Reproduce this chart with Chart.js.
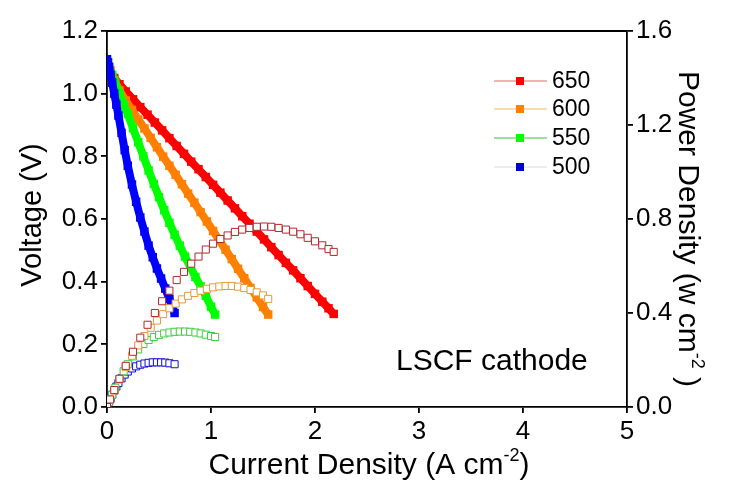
<!DOCTYPE html>
<html>
<head>
<meta charset="utf-8">
<script src="https://cdn.jsdelivr.net/npm/chart.js@4.4.1/dist/chart.umd.min.js"></script>
<style>
  html, body { margin: 0; padding: 0; background: #fff; }
  canvas { display: block; }
</style>
</head>
<body>
<canvas id="chart" width="731" height="488"></canvas>
<script>
// I-V and I-P curves, LSCF cathode, four temperatures (°C)
const temps = ['650', '600', '550', '500'];

const cur650 = [0.00, 0.03, 0.07, 0.12, 0.18, 0.25, 0.32, 0.39, 0.46, 0.53, 0.60, 0.67, 0.74, 0.81, 0.88, 0.95, 1.02, 1.09, 1.16, 1.23, 1.30, 1.37, 1.44, 1.51, 1.58, 1.65, 1.72, 1.79, 1.86, 1.93, 2.00, 2.07, 2.13, 2.18];
const volt650 = [1.10, 1.075, 1.05, 1.03, 1.007, 0.982, 0.957, 0.933, 0.908, 0.883, 0.858, 0.833, 0.808, 0.783, 0.759, 0.734, 0.709, 0.684, 0.659, 0.634, 0.609, 0.585, 0.560, 0.535, 0.510, 0.485, 0.460, 0.436, 0.411, 0.386, 0.361, 0.336, 0.315, 0.297];
const pow650 = [0.000, 0.032, 0.072, 0.12, 0.175, 0.235, 0.295, 0.35, 0.40, 0.45, 0.495, 0.54, 0.575, 0.61, 0.64, 0.67, 0.695, 0.715, 0.73, 0.745, 0.755, 0.762, 0.767, 0.768, 0.767, 0.762, 0.755, 0.746, 0.735, 0.72, 0.705, 0.688, 0.672, 0.66];

const cur600 = [0.00, 0.03, 0.07, 0.12, 0.18, 0.24, 0.30, 0.36, 0.42, 0.48, 0.54, 0.60, 0.66, 0.72, 0.78, 0.84, 0.90, 0.96, 1.02, 1.08, 1.14, 1.20, 1.26, 1.32, 1.38, 1.44, 1.50, 1.55];
const volt600 = [1.10, 1.075, 1.042, 1.01, 0.978, 0.948, 0.918, 0.889, 0.859, 0.829, 0.799, 0.77, 0.741, 0.711, 0.681, 0.652, 0.622, 0.592, 0.562, 0.532, 0.502, 0.472, 0.441, 0.411, 0.38, 0.35, 0.319, 0.295];
const pow600 = [0.000, 0.032, 0.07, 0.118, 0.17, 0.218, 0.262, 0.302, 0.337, 0.368, 0.395, 0.42, 0.44, 0.458, 0.473, 0.485, 0.495, 0.503, 0.509, 0.513, 0.515, 0.515, 0.512, 0.506, 0.498, 0.488, 0.475, 0.46];

const cur550 = [0.00, 0.02, 0.05, 0.08, 0.12, 0.16, 0.20, 0.25, 0.30, 0.35, 0.40, 0.45, 0.50, 0.55, 0.60, 0.65, 0.70, 0.75, 0.80, 0.85, 0.90, 0.95, 1.00, 1.04];
const volt550 = [1.10, 1.085, 1.06, 1.035, 1.00, 0.965, 0.935, 0.89, 0.845, 0.80, 0.755, 0.712, 0.67, 0.628, 0.588, 0.55, 0.515, 0.48, 0.448, 0.415, 0.385, 0.355, 0.32, 0.295];
const pow550 = [0.000, 0.021, 0.052, 0.082, 0.118, 0.152, 0.182, 0.215, 0.245, 0.268, 0.285, 0.298, 0.307, 0.313, 0.317, 0.32, 0.321, 0.321, 0.32, 0.317, 0.313, 0.308, 0.302, 0.298];

const cur500 = [0.00, 0.01, 0.02, 0.035, 0.05, 0.07, 0.09, 0.11, 0.14, 0.17, 0.20, 0.24, 0.28, 0.32, 0.36, 0.40, 0.44, 0.48, 0.52, 0.56, 0.60, 0.65];
const volt500 = [1.11, 1.10, 1.085, 1.06, 1.035, 1.00, 0.965, 0.93, 0.875, 0.82, 0.77, 0.71, 0.655, 0.605, 0.56, 0.515, 0.478, 0.442, 0.41, 0.378, 0.345, 0.30];
const pow500 = [0.000, 0.011, 0.022, 0.037, 0.052, 0.07, 0.087, 0.102, 0.122, 0.138, 0.151, 0.164, 0.173, 0.18, 0.185, 0.188, 0.19, 0.19, 0.19, 0.189, 0.186, 0.182];

const xTicks = [0, 1, 2, 3, 4, 5];
const vTicks = [0, 0.2, 0.4, 0.6, 0.8, 1.0, 1.2];
const pTicks = [0, 0.4, 0.8, 1.2, 1.6];

const currents = [cur650, cur600, cur550, cur500];
const voltages = [volt650, volt600, volt550, volt500];
const powers = [pow650, pow600, pow550, pow500];

const FONT = '"Liberation Sans", Arial, sans-serif';
const bandColors = ['#ff0000', '#ff8000', '#00ff00', '#0000ff'];
const powerColors = ['#b0282d', '#e49a3c', '#3fcc3f', '#1010d0'];
const legendLines = ['#e46a6a', '#f3b766', '#3cc03c', '#dcdcdc'];
const legendSquares = ['#ff0000', '#ff8000', '#00ff00', '#0000cc'];
// voltage bands: 500 on top, 650 at the bottom; power squares above all bands
const bandOrder = [14, 13, 12, 11];

function toXY(cur, vals) {
    return cur.map((c, i) => ({ x: c, y: vals[i] }));
}

const datasets = [];
temps.forEach((t, i) => {
    datasets.push({
        label: t,
        data: toXY(currents[i], voltages[i]),
        yAxisID: 'y',
        borderColor: bandColors[i],
        backgroundColor: bandColors[i],
        borderWidth: 8,
        pointStyle: 'rect',
        pointRadius: 6,
        pointBorderWidth: 0,
        pointBackgroundColor: bandColors[i],
        order: bandOrder[i]
    });
});
temps.forEach((t, i) => {
    datasets.push({
        label: t + ' power',
        data: toXY(currents[i], powers[i]),
        yAxisID: 'y1',
        showLine: false,
        pointStyle: 'rect',
        pointRadius: 5,
        pointBorderWidth: 1,
        pointBorderColor: powerColors[i],
        pointBackgroundColor: '#ffffff',
        order: i
    });
});

function axisStyle() {
    return {
        grid: { display: true, drawOnChartArea: false, drawTicks: true, tickLength: 6, color: '#000', lineWidth: 1.8 },
        border: { display: true, color: '#000', width: 1.8 },
        ticks: { color: '#000', font: { family: FONT, size: 26 }, padding: 3 }
    };
}

// titles with a raised "-2"; parts are drawn centred on the current origin
function drawParts(ctx, parts, size) {
    const supSize = Math.round(size * 0.6);
    const widths = parts.map(([t, sup]) => {
        ctx.font = (sup ? supSize : size) + 'px ' + FONT;
        return ctx.measureText(t).width;
    });
    let x = -widths.reduce((a, b) => a + b, 0) / 2;
    parts.forEach(([t, sup], i) => {
        ctx.font = (sup ? supSize : size) + 'px ' + FONT;
        ctx.fillText(t, x, sup ? -size * 0.42 : 0);
        x += widths[i];
    });
}

const decor = {
    id: 'decor',
    afterDraw(chart) {
        const ctx = chart.ctx;
        const area = chart.chartArea;
        ctx.save();
        // top frame line
        ctx.strokeStyle = '#000';
        ctx.lineWidth = 1.8;
        ctx.beginPath();
        ctx.moveTo(area.left, area.top);
        ctx.lineTo(area.right, area.top);
        ctx.stroke();

        ctx.fillStyle = '#000';
        ctx.textAlign = 'left';
        ctx.textBaseline = 'alphabetic';

        ctx.save();
        ctx.translate((area.left + area.right) / 2 + 2, 474);
        drawParts(ctx, [['Current Density (A cm', false], ['-2', true], [')', false]], 30);
        ctx.restore();

        ctx.save();
        ctx.translate(41, 215);
        ctx.rotate(-Math.PI / 2);
        drawParts(ctx, [['Voltage (V)', false]], 29);
        ctx.restore();

        ctx.save();
        ctx.translate(679, 229);
        ctx.rotate(Math.PI / 2);
        drawParts(ctx, [['Power Density (w cm', false], ['-2', true], [' )', false]], 30);
        ctx.restore();

        // legend: line with a filled square in the middle
        const rows = [81, 109, 138, 167];
        temps.forEach((t, i) => {
            const y = rows[i];
            ctx.strokeStyle = legendLines[i];
            ctx.lineWidth = 1.2;
            ctx.beginPath();
            ctx.moveTo(494, y);
            ctx.lineTo(547, y);
            ctx.stroke();
            ctx.fillStyle = legendSquares[i];
            ctx.fillRect(516, y - 4, 8, 8);
            ctx.fillStyle = '#000';
            ctx.font = '23px ' + FONT;
            ctx.textBaseline = 'middle';
            ctx.fillText(t, 552, y + 1);
        });

        ctx.textBaseline = 'alphabetic';
        ctx.font = '30px ' + FONT;
        ctx.fillText('LSCF cathode', 396, 370);
        ctx.restore();
    }
};

const xAxis = axisStyle();
const yAxis = axisStyle();
const y1Axis = axisStyle();

new Chart(document.getElementById('chart'), {
    type: 'line',
    data: { datasets: datasets },
    options: {
        responsive: false,
        animation: false,
        layout: { padding: { top: 31, left: 0, right: 0, bottom: 0 } },
        plugins: { legend: { display: false }, tooltip: { enabled: false } },
        scales: {
            x: {
                type: 'linear', position: 'bottom', min: 0, max: 5,
                grid: xAxis.grid, border: xAxis.border,
                ticks: Object.assign({}, xAxis.ticks, { callback: v => v }),
                afterBuildTicks: s => { s.ticks = xTicks.map(v => ({ value: v })); },
                afterFit: s => { s.height = 81; }
            },
            y: {
                type: 'linear', position: 'left', min: 0, max: 1.2,
                grid: yAxis.grid, border: yAxis.border,
                ticks: Object.assign({}, yAxis.ticks, { callback: v => v.toFixed(1) }),
                afterBuildTicks: s => { s.ticks = vTicks.map(v => ({ value: v })); },
                afterFit: s => { s.width = 107; }
            },
            y1: {
                type: 'linear', position: 'right', min: 0, max: 1.6,
                grid: y1Axis.grid, border: y1Axis.border,
                ticks: Object.assign({}, y1Axis.ticks, { callback: v => v.toFixed(1) }),
                afterBuildTicks: s => { s.ticks = pTicks.map(v => ({ value: v })); },
                afterFit: s => { s.width = 104; }
            }
        }
    },
    plugins: [decor]
});
</script>
</body>
</html>
